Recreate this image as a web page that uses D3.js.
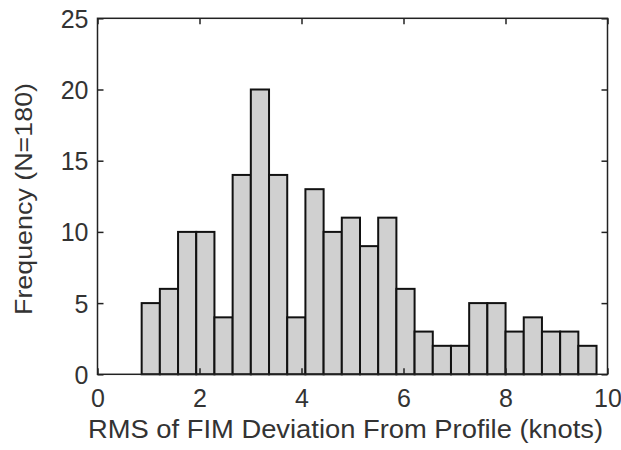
<!DOCTYPE html>
<html>
<head>
<meta charset="utf-8">
<script src="https://cdn.jsdelivr.net/npm/d3@7"></script>
<style>
  html, body { margin: 0; padding: 0; background: #fff; }
  svg { display: block; }
  text { font-family: "Liberation Sans", Arial, sans-serif; fill: #333; }
</style>
</head>
<body>
<svg id="chart" width="621" height="450"></svg>
<script>
// Data
const counts = [5, 6, 10, 10, 4, 14, 20, 14, 4, 13, 10, 11, 9, 11, 6, 3, 2, 2, 5, 5, 3, 4, 3, 3, 2];
const binStart = 0.866;
const binEnd = 9.785;
const xTicks = [0, 2, 4, 6, 8, 10];
const yTicks = [0, 5, 10, 15, 20, 25];
const xLabel = "RMS of FIM Deviation From Profile (knots)";
const yLabel = "Frequency (N=180)";

const binW = (binEnd - binStart) / counts.length;
const bins = counts.map((c, i) => ({ x0: binStart + i * binW, x1: binStart + (i + 1) * binW, n: c }));

const L = 97.5, R = 607.5, T = 18.3, B = 374.3;
const svg = d3.select("#chart");
const x = d3.scaleLinear().domain([0, 10]).range([L, R]);
const y = d3.scaleLinear().domain([0, 25]).range([B, T]);

// bars
svg.append("g").selectAll("rect").data(bins).join("rect")
  .attr("x", d => x(d.x0))
  .attr("y", d => y(d.n))
  .attr("width", d => x(d.x1) - x(d.x0))
  .attr("height", d => y(0) - y(d.n))
  .attr("fill", "#d0d0d0")
  .attr("stroke", "#111")
  .attr("stroke-width", 2);

const tl = 6;
// bottom axis (ticks inward)
const gx = svg.append("g").attr("transform", `translate(0,${B})`)
  .call(d3.axisBottom(x).tickValues(xTicks).tickSize(-tl).tickPadding(0).tickFormat(d3.format("d")));
gx.select(".domain").remove();
gx.selectAll("text").attr("font-size", 25).attr("y", 33).attr("dy", 0).attr("fill", "#333");
// top ticks
const gxt = svg.append("g").attr("transform", `translate(0,${T})`)
  .call(d3.axisTop(x).tickValues(xTicks).tickSize(-tl).tickFormat(""));
gxt.select(".domain").remove();
// left axis
const gy = svg.append("g").attr("transform", `translate(${L},0)`)
  .call(d3.axisLeft(y).tickValues(yTicks).tickSize(-tl).tickPadding(10).tickFormat(d3.format("d")));
gy.select(".domain").remove();
gy.selectAll("text").attr("font-size", 25).attr("x", -9).attr("dy", "0.36em").attr("fill", "#333");
// right ticks
const gyr = svg.append("g").attr("transform", `translate(${R},0)`)
  .call(d3.axisRight(y).tickValues(yTicks).tickSize(-tl).tickFormat(""));
gyr.select(".domain").remove();
svg.selectAll(".tick line").attr("stroke", "#222").attr("stroke-width", 1.5);

// box
svg.append("rect").attr("x", L).attr("y", T).attr("width", R - L).attr("height", B - T)
  .attr("fill", "none").attr("stroke", "#222").attr("stroke-width", 1.5);

// titles
svg.append("text").attr("x", (L + R) / 2 - 7).attr("y", 438)
  .attr("text-anchor", "middle").attr("font-size", 25)
  .attr("textLength", 515).attr("lengthAdjust", "spacingAndGlyphs")
  .text(xLabel);
svg.append("text").attr("transform", `translate(32,199) rotate(-90)`)
  .attr("text-anchor", "middle").attr("font-size", 24)
  .attr("textLength", 232).attr("lengthAdjust", "spacingAndGlyphs")
  .text(yLabel);
</script>
</body>
</html>
